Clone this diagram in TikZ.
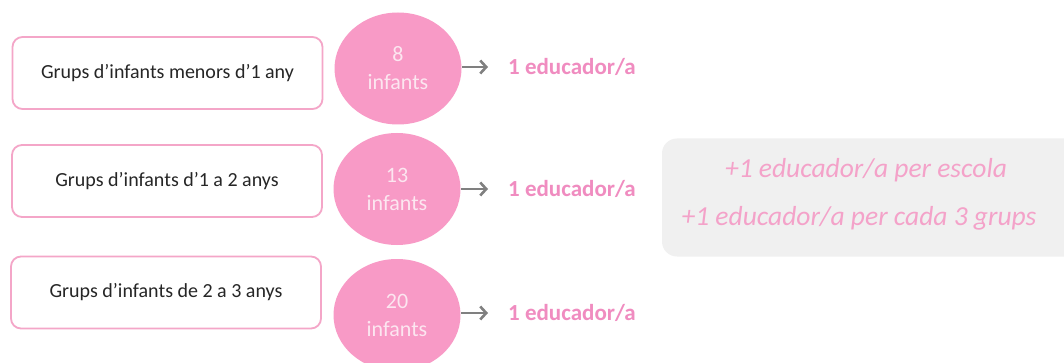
\documentclass[tikz,border=0pt]{standalone}
\usepackage{fontspec}
\setmainfont{Carlito}
\usetikzlibrary{arrows.meta,shapes.geometric}
\definecolor{boxpink}{HTML}{F4A6C8}
\definecolor{circpink}{HTML}{F89AC6}
\definecolor{circtext}{HTML}{FCE6F0}
\definecolor{edupink}{HTML}{F08CC0}
\definecolor{greybg}{HTML}{F0F0F0}
\definecolor{italpink}{HTML}{F4A2C9}
\definecolor{arrowgrey}{HTML}{808080}
\tikzset{
  groupbox/.style={draw=boxpink, line width=1.8pt, rounded corners=10pt, fill=white,
    minimum width=310pt, minimum height=72pt, inner sep=0pt, font=\fontsize{20}{24}\selectfont, text=black!85},
  ratio/.style={ellipse, fill=circpink, minimum width=127pt, minimum height=112pt, inner sep=0pt, text=circtext,
    font=\fontsize{22}{28}\selectfont, align=center},
  edu/.style={anchor=west, inner sep=0pt, text=edupink, font=\bfseries\fontsize{23}{26}\selectfont},
  conn/.style={arrowgrey, line width=2.6pt, -{Straight Barb[length=6pt,width=13pt]}, shorten >=20pt},
  extra/.style={text=italpink, font=\itshape\fontsize{27.5}{32}\selectfont}
}
\begin{document}
\begin{tikzpicture}[x=1pt,y=-1pt]
\useasboundingbox (0,0) rectangle (1064,363);
\fill[white] (0,0) rectangle (1064,363);
% grey box
\node (panel) [fill=greybg, rounded corners=15pt, minimum width=420pt, minimum height=118pt, inner sep=0pt] at (872,197.5) {};
\node (e1) [extra] at (866,170) {+1 educador/a per escola};
\node (e2) [extra] at (859,218) {+1 educador/a per cada 3 grups};
% rows
\node (g1) [groupbox] at (167.5,73) {Grups d’infants menors d’1 any};
\node (g2) [groupbox] at (167,181) {Grups d’infants d’1 a 2 anys};
\node (g3) [groupbox] at (166,292.5) {Grups d’infants de 2 a 3 anys};
\node (c1) [ratio] at (398,68.5) {8\\infants};
\node (c2) [ratio] at (397,189) {13\\infants};
\node (c3) [ratio] at (397,315) {20\\infants};
\node (t1) [edu] at (508,67) {1 educador/a};
\node (t2) [edu] at (508,189) {1 educador/a};
\node (t3) [edu] at (508,313) {1 educador/a};
\draw[conn] (462,67) -- (t1.west);
\draw[conn] (461,189) -- (t2.west);
\draw[conn] (461,313) -- (t3.west);
\end{tikzpicture}
\end{document}
